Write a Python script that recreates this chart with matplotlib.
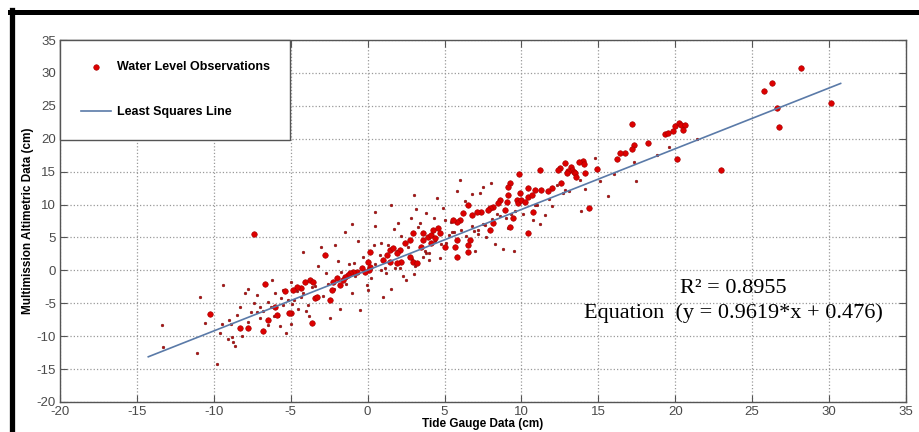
import matplotlib
matplotlib.use('Agg')
import matplotlib.pyplot as plt
from matplotlib.lines import Line2D

plt.rcParams['font.family'] = ['Liberation Sans', 'DejaVu Sans']
plt.rcParams['axes.unicode_minus'] = False

# Large observation dots (tide gauge cm, altimetry cm)
big_x = [28.2, 26.3, 25.8, 30.1, 26.6, 26.75, 23.0, 20.1, 19.86, 20.0, 20.25, 20.4, 20.6, 20.5,
         17.2, 19.3, 19.5, 18.2, 17.3, 17.2, 16.7, 16.4, 16.2, 14.9, 14.0, 13.75, 14.07, 14.1,
         13.2, 13.3, 13.4, 13.5, 13.55, 13.0, 12.95, 12.8, 12.5, 12.4, 12.6, 12.0, 11.7, 11.3, 11.2, 14.4,
         9.85, 9.26, 9.1, 10.4, 10.9, 9.9, 9.7, 9.8, 10.0, 10.2, 10.4, 10.7, 9.1, 9.05, 8.9, 8.6,
         8.5, 8.15, 7.95, 7.8, 7.4, 7.1, 6.8, 6.5, 6.2, 6.0, 5.8, 5.55, 10.75, 10.4, 9.45, 9.26,
         8.15, 7.95, 6.65, 6.5, 5.8, 5.7, 5.0, 3.6, 3.9, 4.1, 4.25, 4.6, 4.7, 4.4, 4.1, 3.5, 6.5, 5.8,
         3.6, 2.95, 2.75, 2.4, 2.1, 1.9, 1.45, 1.65, 1.25, 2.2, 1.9, 1.45, 1.0, 2.95, 3.2, 2.75,
         0.15, 0.0, 0.15, 0.1, -0.17, -0.36, -0.7, -0.95, -1.15, -1.3, -1.5, -1.6, -2.0, -1.8,
         -2.25, -2.3, -2.8, -3.75, -3.55, -4.1, -4.3, -4.6, -4.85, -3.4, -3.3, -2.45, -3.6, -5.0,
         -10.25, -6.7, -5.4, -6.0, -5.9, -6.5, -5.1, -7.8, -8.3, -6.8, -7.4]
big_y = [30.7, 28.5, 27.25, 25.4, 24.7, 21.8, 15.2, 16.9, 21.2, 21.9, 22.4, 22.1, 22.1, 21.3,
         22.2, 20.7, 20.9, 19.3, 19.0, 18.4, 17.8, 17.8, 16.9, 15.4, 16.6, 16.5, 16.2, 14.8,
         15.7, 15.2, 14.9, 14.8, 14.2, 15.1, 14.8, 16.3, 15.5, 15.2, 13.3, 12.5, 12.1, 12.2, 15.2, 9.5,
         14.6, 13.3, 12.7, 12.5, 12.2, 11.7, 10.7, 10.2, 10.7, 10.4, 11.1, 11.4, 11.4, 10.4, 9.2, 10.7,
         10.2, 9.6, 9.5, 9.2, 8.9, 8.9, 8.4, 9.9, 8.7, 7.6, 7.3, 7.6, 8.9, 5.7, 7.9, 6.6,
         7.2, 6.1, 4.6, 3.8, 4.6, 3.5, 3.5, 4.6, 5.1, 5.4, 6.1, 6.4, 5.7, 4.9, 4.1, 3.5, 2.8, 2.0,
         5.7, 5.7, 4.6, 4.1, 3.1, 2.6, 3.1, 3.4, 2.3, 1.3, 1.1, 1.3, 1.6, 1.3, 1.1, 2.0,
         2.8, 1.3, 0.5, 0.0, -0.26, 0.35, -0.26, -0.26, -0.4, -0.7, -1.0, -1.5, -1.2, -2.2,
         -1.8, -3.0, 2.3, -1.5, -1.8, -1.8, -2.7, -2.5, -3.0, -4.2, -4.1, -4.5, -8.0, -6.5,
         -6.6, -2.1, -3.15, -5.6, -6.8, -7.6, -6.5, -8.8, -8.8, -9.2, 5.5]

# Small observation dots
small_x = [14.8, 13.8, 14.1, 15.6, 17.45, 13.9, 12.8, 12.3,
           10.75, 9.1, 7.5, 6.8, 7.2, 7.7, 4.7, 3.6, 4.0, 3.8, 4.3, 5.0, 5.4, 11.5, 12.0, 11.2,
           8.3, 8.8, 9.5, 7.0,
           3.15, 2.8, 3.4, 1.0, -0.04, 0.0, -0.6, 0.4, 0.9, 1.3, -2.45, -3.0, -2.1, -4.2, -1.5,
           -1.0, 0.5, 1.7, 2.0, 2.5, 3.0, 1.5, -1.0, -1.8, -0.5, 0.5, 1.1, 2.3,
           -13.4, -13.3, -11.1, -9.8, -10.9, -9.4, -9.1, -8.8, -8.6, -8.75, -6.0, -5.5, -8.0, -7.2,
           -6.5, -7.0, -7.4, -5.5, -8.3, -9.0, -7.8, -5.7, -6.5, -5.0, -5.3, -8.5, -10.6, -9.5,
           -4.8, -4.5, -4.0, -3.8, -4.2, -5.0, -6.2, -7.8, -7.2,
           1.5, 0.5, 3.0, 5.8, 4.5, 6.8, 7.5, 8.0, 6.0, 2.2, 3.3, 4.9, 5.6, 6.3, 7.3, 8.6,
           9.6, 10.9, 11.8, 12.7, 13.1, 15.1, 16.0, 17.3, 18.8, 19.6, 21.4,
           -3.2, -2.7, -1.9, -1.2, -0.3, 0.8, 1.9, 2.6, 3.7, 4.4, 5.3, 6.1, 6.9, 7.6, 8.4, 9.3,
           -6.8, -6.1, -5.6, -4.9, -4.3, -3.6, -2.9, -2.2, -1.4, -0.8, 0.2, 1.2, 2.1, 3.1, 4.0, 5.1,
           -9.6, -8.9, -8.2, -7.6, -7.0, -6.3, -5.8, -5.2, -4.6, -3.9, -3.4, -2.6, -1.7, -0.9,
           0.9, 1.8, 2.9, 3.8, 4.8, 5.5, 6.4, 7.2, 8.1, 9.0, 10.1, 11.0]
small_y = [17.1, 13.7, 12.4, 11.3, 13.6, 9.0, 12.2, 13.0,
           7.6, 6.4, 7.0, 6.7, 5.6, 5.0, 1.9, 2.0, 1.5, 8.7, 8.0, 7.6, 7.3, 8.4, 9.8, 7.0,
           4.0, 3.2, 2.9, 3.0,
           9.3, 8.0, 7.2, -4.1, -2.2, -3.0, 4.5, 3.9, 4.2, 3.8, -7.25, 3.6, 3.8, 2.8, 5.8,
           7.0, 6.8, 6.3, 7.2, -1.5, -0.5, -2.8, -3.5, -5.8, -6.0, 0.9, 0.3, -0.8,
           -8.3, -11.7, -12.6, -14.2, -4.1, -2.2, -10.4, -10.1, -11.5, -10.9, -3.45, -3.0, -3.5, -3.8,
           -4.8, -5.5, -5.0, -5.3, -5.5, -7.5, -7.8, -8.5, -8.3, -8.2, -9.5, -6.8, -8.0, -8.2,
           -4.5, -5.8, -6.2, -7.0, -3.5, -1.8, -1.5, -2.8, -6.3,
           10.0, 8.9, 11.5, 12.0, 11.0, 11.6, 12.6, 13.2, 13.8, 5.2, 6.6, 9.4, 5.9, 10.6, 11.8, 8.2,
           9.0, 10.0, 10.9, 11.8, 12.0, 13.6, 14.6, 16.4, 17.6, 18.8, 19.9,
           0.6, -0.4, 1.4, 0.9, 2.0, 2.4, 2.9, 3.5, 3.0, 4.5, 5.4, 6.2, 6.0, 6.9, 8.6, 8.6,
           -6.1, -7.0, -4.2, -5.1, -4.0, -2.6, -3.9, -2.9, -2.0, -0.9, -1.2, -0.4, 0.4, 0.6, 2.6, 4.2,
           -9.5, -8.1, -9.9, -6.4, -7.3, -5.5, -6.9, -4.5, -3.1, -5.2, -2.4, -2.0, -0.2, 1.1,
           0.1, 0.4, 1.7, 2.6, 4.0, 5.8, 5.2, 6.1, 7.8, 8.0, 8.6, 9.9]

# Least squares line endpoints as drawn
fit_x = [-14.26, 30.75]
fit_y = [-13.13, 28.4]

r2_text = 'R\u00b2 = 0.8955'
eq_text = 'Equation  (y = 0.9619*x + 0.476)'

fig = plt.figure(figsize=(9.2, 4.32), dpi=100)
ax = fig.add_axes([60 / 920, 30 / 432, 846 / 920, 362 / 432])

ax.scatter(small_x, small_y, s=4, color='#b01010', edgecolors='#701010', linewidths=0.3, zorder=3)
ax.scatter(big_x, big_y, s=16, color='#dd0000', edgecolors='#a00000', linewidths=0.4, zorder=4,
           label='Water Level Observations')
ax.plot(fit_x, fit_y, color='#5a7aa8', lw=1.2, zorder=5, label='Least Squares Line')

ax.set_xlim(-20, 35)
ax.set_ylim(-20, 35)
ax.set_xticks(range(-20, 36, 5))
ax.set_yticks(range(-20, 36, 5))
ax.grid(True, linestyle=':', color='#999999', linewidth=0.9)
ax.set_axisbelow(True)
ax.tick_params(direction='in', length=5, top=True, right=True, labelsize=9.5,
               labelcolor='#4a4a4a', color='#555555', pad=3)
for sp in ax.spines.values():
    sp.set_color('#555555')
    sp.set_linewidth(1.0)

ax.set_xlabel('Tide Gauge Data (cm)', fontsize=8.5, fontweight='bold', labelpad=0)
ax.set_ylabel('Multimission Altimetric Data (cm)', fontsize=8.5, fontweight='bold', labelpad=2)

ax.text(23.8, -2.7, r2_text, family=['Liberation Serif', 'DejaVu Serif'], fontsize=16,
        ha='center', va='center')
ax.text(23.8, -6.5, eq_text, family=['Liberation Serif', 'DejaVu Serif'], fontsize=16,
        ha='center', va='center')

leg = ax.legend(loc='upper left', bbox_to_anchor=(0, 0.5, 230 / 846, 0.5), mode='expand',
                borderaxespad=0, frameon=True, fancybox=False, edgecolor='#555555',
                framealpha=1, prop={'weight': 'bold', 'size': 9}, borderpad=1.7,
                labelspacing=2.65, handlelength=2.4, handletextpad=0.45, scatterpoints=1)
leg.get_frame().set_linewidth(1.0)
leg.set_zorder(10)

# black screenshot frame
fig.add_artist(Line2D([12.5 / 920, 12.5 / 920], [0, 1 - 10 / 432], color='black', lw=3.8))
fig.add_artist(Line2D([10 / 920, 1], [1 - 12 / 432, 1 - 12 / 432], color='black', lw=3.6))

fig.savefig('out.png', dpi=100)
